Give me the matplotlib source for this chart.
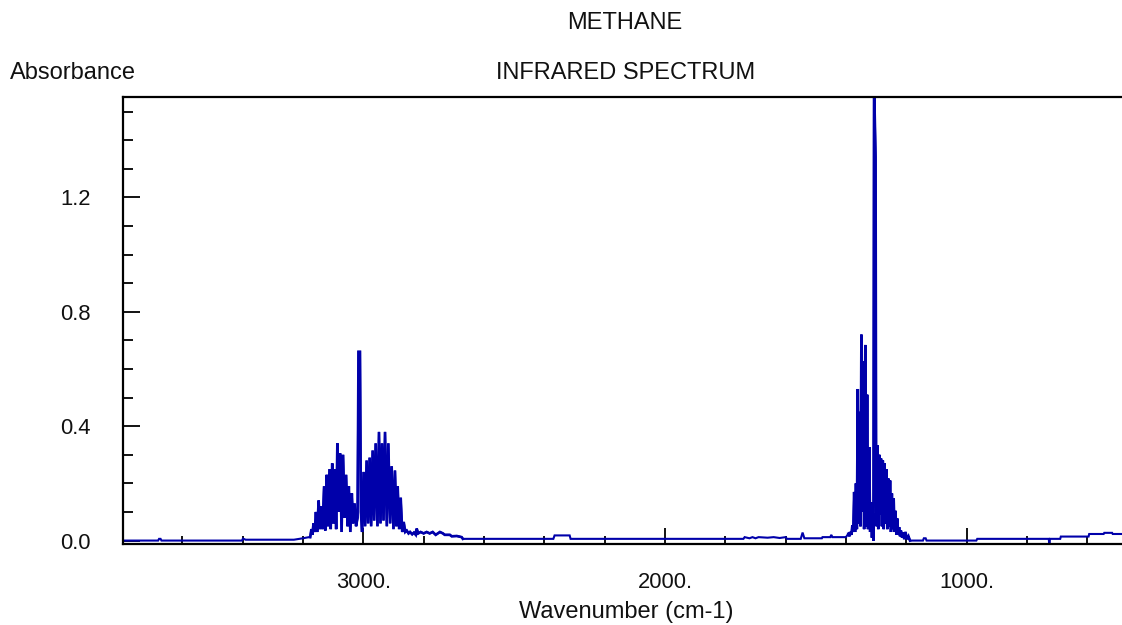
import matplotlib
matplotlib.use("Agg")
import matplotlib.pyplot as plt
from matplotlib.ticker import MultipleLocator, FixedLocator, FixedFormatter

# ---------------- data ----------------
title_top = "METHANE"
title_sub = "INFRARED SPECTRUM"
y_label = "Absorbance"
x_label = "Wavenumber (cm-1)"

x_major_ticks = [3000, 2000, 1000]
x_major_labels = ["3000.", "2000.", "1000."]
y_major_ticks = [0.0, 0.4, 0.8, 1.2]
y_major_labels = ["0.0", "0.4", "0.8", "1.2"]

# baseline before the C-H stretch band
base1_wn = [3797, 3680, 3677, 3672, 3669, 3402, 3399, 3390, 3230, 3200, 3180]
base1_a = [0.0, 0.0, 0.006, 0.006, 0.0, 0.0, 0.007, 0.003, 0.003, 0.008, 0.012]

# nu3 band (~3017 cm-1), alternating lines and gaps
band3_wn = [3176, 3172, 3169, 3165, 3161, 3157, 3153, 3148, 3144, 3139,
            3135, 3130, 3126, 3121, 3117, 3112, 3108, 3103, 3099, 3094,
            3090, 3086, 3082, 3077, 3072, 3067, 3062, 3057, 3052, 3048,
            3043, 3038, 3034, 3029, 3024, 3019, 3016, 3011, 3008, 3004,
            2999, 2994, 2989, 2984, 2979, 2974, 2969, 2964, 2959, 2953,
            2948, 2943, 2938, 2933, 2928, 2922, 2917, 2911, 2906, 2900,
            2895, 2890, 2886, 2881, 2876, 2871, 2866, 2861, 2856, 2850,
            2845, 2838, 2832, 2826, 2823, 2818, 2810, 2800, 2790, 2780,
            2770, 2760, 2746, 2736, 2730, 2713, 2707, 2690, 2674, 2670]
band3_a = [0.012, 0.04, 0.02, 0.06, 0.03, 0.10, 0.03, 0.14, 0.04, 0.12,
           0.04, 0.19, 0.035, 0.23, 0.05, 0.25, 0.04, 0.27, 0.06, 0.25,
           0.04, 0.34, 0.10, 0.305, 0.03, 0.30, 0.08, 0.23, 0.05, 0.19,
           0.03, 0.165, 0.06, 0.13, 0.05, 0.08, 0.66, 0.66, 0.10, 0.03,
           0.24, 0.05, 0.28, 0.06, 0.29, 0.05, 0.315, 0.07, 0.34, 0.05,
           0.38, 0.06, 0.34, 0.07, 0.38, 0.05, 0.34, 0.06, 0.26, 0.04,
           0.245, 0.05, 0.19, 0.04, 0.15, 0.03, 0.065, 0.03, 0.035, 0.025,
           0.03, 0.022, 0.028, 0.02, 0.042, 0.025, 0.03, 0.025, 0.03, 0.025,
           0.03, 0.02, 0.03, 0.025, 0.02, 0.02, 0.015, 0.016, 0.012, 0.006]

# baseline between the bands
base2_wn = [2370, 2366, 2316, 2313, 1740, 1736, 1720, 1710, 1700, 1690,
            1660, 1640, 1620, 1600, 1596, 1550, 1544, 1538, 1480, 1478,
            1452, 1449, 1445, 1400, 1395]
base2_a = [0.006, 0.018, 0.018, 0.006, 0.006, 0.012, 0.008, 0.012, 0.008, 0.012,
           0.010, 0.012, 0.009, 0.012, 0.006, 0.006, 0.028, 0.008, 0.008, 0.012,
           0.012, 0.020, 0.012, 0.012, 0.020]

# nu4 band (~1306 cm-1)
band4_wn = [1392, 1389, 1385, 1382, 1379, 1376, 1373, 1370, 1367, 1364,
            1361, 1358, 1355, 1352, 1349, 1346, 1343, 1340, 1336, 1333,
            1330, 1327, 1323, 1320, 1317, 1314, 1311, 1309, 1307, 1302,
            1300, 1298, 1296, 1293, 1290, 1287, 1284, 1281, 1278, 1275,
            1272, 1269, 1266, 1263, 1260, 1257, 1254, 1251, 1248, 1245,
            1242, 1239, 1236, 1233, 1230, 1227, 1224, 1221, 1218, 1214,
            1211, 1207, 1203, 1198, 1193, 1188]
band4_a = [0.024, 0.015, 0.03, 0.02, 0.053, 0.03, 0.17, 0.03, 0.20, 0.04,
           0.53, 0.06, 0.45, 0.05, 0.72, 0.10, 0.626, 0.04, 0.684, 0.05,
           0.51, 0.04, 0.327, 0.03, 0.134, 0.01, 0.095, 0.0, 1.60, 1.34,
           0.10, 0.05, 0.333, 0.04, 0.30, 0.09, 0.287, 0.05, 0.28, 0.04,
           0.27, 0.06, 0.25, 0.04, 0.217, 0.05, 0.21, 0.03, 0.165, 0.04,
           0.147, 0.03, 0.104, 0.02, 0.077, 0.02, 0.047, 0.015, 0.035, 0.01,
           0.028, 0.005, 0.03, 0.005, 0.015, 0.0]

# baseline at low wavenumbers
base3_wn = [1145, 1142, 1136, 1133, 968, 965, 728, 726, 724, 690,
            688, 596, 594, 546, 544, 518, 516, 485]
base3_a = [0.0, 0.008, 0.008, 0.0, 0.0, 0.006, 0.006, -0.014, 0.006, 0.006,
           0.014, 0.014, 0.023, 0.023, 0.027, 0.027, 0.023, 0.023]

# ---------------- figure ----------------
W, H = 1122, 625
fig = plt.figure(figsize=(W / 100, H / 100), dpi=100)
fig.patch.set_facecolor("white")

def fx(px):
    return px / W

def fy(py):
    return 1 - py / H

ax_left, ax_right, ax_top, ax_bottom = 122.7, 1122, 97.3, 544
ax = fig.add_axes([fx(ax_left), fy(ax_bottom), fx(ax_right - ax_left),
                   (ax_bottom - ax_top) / H])

color = "#0000AA"
wn = base1_wn + band3_wn + base2_wn + band4_wn + base3_wn
ab = base1_a + band3_a + base2_a + band4_a + base3_a
# whole spectrum as one trace
ax.plot(wn, ab, color=color, lw=1.5, solid_joinstyle="miter")
# the dense rotational structure of the two bands merges into a dark mass
ax.plot(band3_wn, band3_a, color=color, lw=1.9, solid_joinstyle="miter")
ax.plot(band4_wn, band4_a, color=color, lw=1.9, solid_joinstyle="miter")

ax.set_xlim(3797.5, 485.2)
ax.set_ylim(-0.012, 1.55)

for s in ["left", "top", "bottom"]:
    ax.spines[s].set_linewidth(1.6)
    ax.spines[s].set_color("black")
ax.spines["right"].set_visible(False)

font = "Liberation Sans"

ax.xaxis.set_major_locator(FixedLocator(x_major_ticks))
ax.xaxis.set_major_formatter(FixedFormatter(x_major_labels))
ax.xaxis.set_minor_locator(MultipleLocator(200))
ax.yaxis.set_major_locator(FixedLocator(y_major_ticks))
ax.yaxis.set_major_formatter(FixedFormatter(y_major_labels))
ax.yaxis.set_minor_locator(MultipleLocator(0.1))

ax.tick_params(axis="x", which="major", direction="in", length=11.5, width=1.3,
               pad=20, labelsize=15.8)
ax.tick_params(axis="x", which="minor", direction="in", length=6, width=1.3)
ax.tick_params(axis="y", which="major", direction="in", length=12, width=1.3,
               pad=23, labelsize=15.8)
ax.tick_params(axis="y", which="minor", direction="in", length=7, width=1.3)
for lab in ax.get_xticklabels() + ax.get_yticklabels():
    lab.set_fontfamily(font)
    lab.set_color("#111111")

fs_text = 17
fig.text(fx(625), fy(23), title_top, ha="center", va="center",
         fontsize=fs_text, family=font, color="#111111")
fig.text(fx(626), fy(73), title_sub, ha="center", va="center",
         fontsize=fs_text, family=font, color="#111111")
fig.text(fx(10), fy(73), y_label, ha="left", va="center",
         fontsize=fs_text, family=font, color="#111111")
fig.text(fx(626), fy(612), x_label, ha="center", va="center",
         fontsize=fs_text, family=font, color="#111111")

fig.savefig("out.png", dpi=100, facecolor="white")
